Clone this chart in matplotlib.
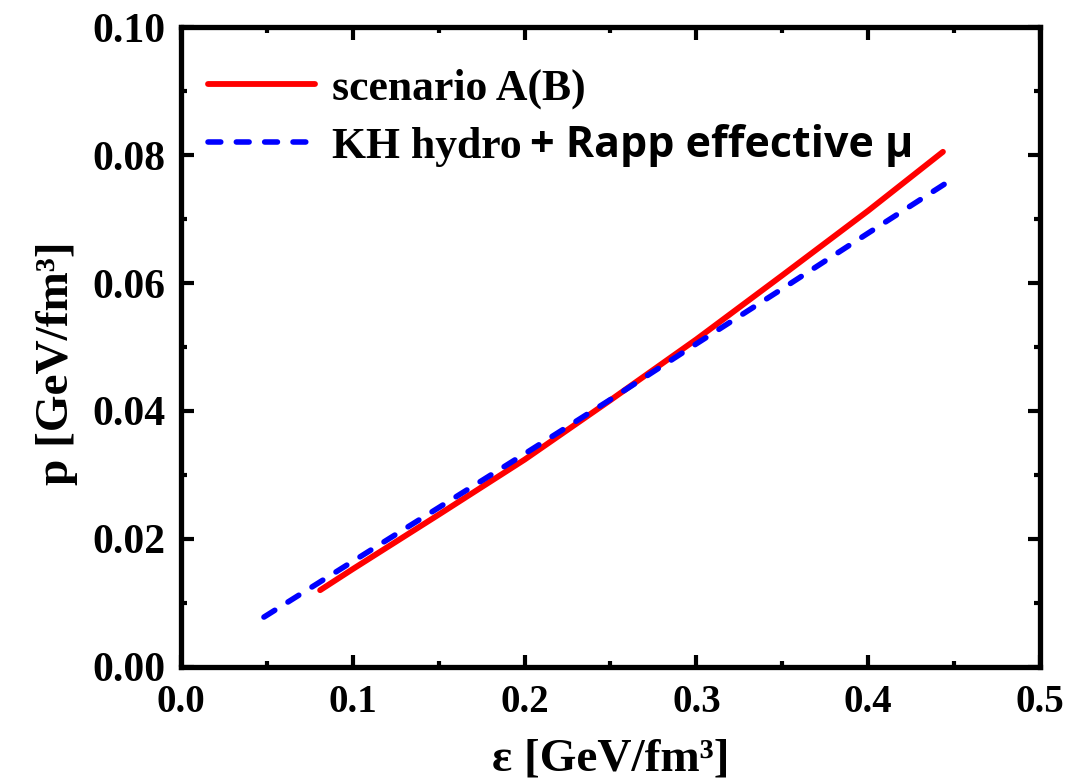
import matplotlib
matplotlib.use("Agg")
import matplotlib.pyplot as plt
from matplotlib.ticker import MultipleLocator, FormatStrFormatter

# Equation of state: pressure vs energy density
eps_A = [0.081, 0.100, 0.150, 0.200, 0.250, 0.300, 0.350, 0.400, 0.4435]
p_A = [0.0120, 0.0153, 0.0238, 0.0324, 0.0417, 0.0512, 0.0612, 0.0713, 0.0805]

eps_KH = [0.0483, 0.100, 0.150, 0.200, 0.250, 0.300, 0.350, 0.400, 0.4447]
p_KH = [0.0078, 0.0165, 0.0249, 0.0333, 0.0418, 0.0505, 0.0591, 0.0678, 0.0755]

label_A = "scenario A(B)"
label_KH = "KH hydro"
label_KH_extra = "+ Rapp effective μ"
xlabel = "ε [GeV/fm³]"
ylabel = "p [GeV/fm³]"

serif = "Liberation Serif"
plt.rcParams["font.family"] = [serif, "DejaVu Serif"]
plt.rcParams["font.weight"] = "bold"

fig = plt.figure(figsize=(10.83, 7.81), dpi=100)
ax = fig.add_axes([0.1671, 0.1460, 0.7932, 0.8194])

ax.plot(eps_A, p_A, color="#ff0000", lw=4.2, solid_capstyle="round",
        label=label_A)
ax.plot(eps_KH, p_KH, color="#0000ff", lw=4.0, linestyle=(0, (2.3, 2.8)),
        dash_capstyle="round", label=label_KH)

ax.set_xlim(0.0, 0.5)
ax.set_ylim(0.0, 0.10)
ax.xaxis.set_major_locator(MultipleLocator(0.1))
ax.xaxis.set_minor_locator(MultipleLocator(0.05))
ax.yaxis.set_major_locator(MultipleLocator(0.02))
ax.yaxis.set_minor_locator(MultipleLocator(0.01))
ax.xaxis.set_major_formatter(FormatStrFormatter("%.1f"))
ax.yaxis.set_major_formatter(FormatStrFormatter("%.2f"))

for s in ax.spines.values():
    s.set_linewidth(3.8)
ax.tick_params(which="both", direction="in", top=True, right=True, width=3.0)
ax.tick_params(which="major", length=9)
ax.tick_params(which="minor", length=4.5)
ax.tick_params(axis="x", pad=12, labelsize=28)
ax.tick_params(axis="y", pad=11, labelsize=30)
for t in ax.get_xticklabels() + ax.get_yticklabels():
    t.set_fontweight("bold")

ax.set_xlabel(xlabel, fontsize=34, fontweight="bold", labelpad=13)
ax.set_ylabel(ylabel, fontsize=34, fontweight="bold")
ax.yaxis.set_label_coords(-0.120, 0.475)

leg = ax.legend(loc="upper left", bbox_to_anchor=(0.031, 0.935),
                frameon=False, borderpad=0, borderaxespad=0,
                handlelength=2.45, handletextpad=0.40, labelspacing=0.40,
                prop={"family": serif, "weight": "bold", "size": 31.5})
ax.text(0.406, 0.797, label_KH_extra, transform=ax.transAxes,
        va="baseline", ha="left", fontsize=31, fontweight="bold",
        family=["Open Sans", "DejaVu Sans"])

fig.savefig("out.png", dpi=100)
